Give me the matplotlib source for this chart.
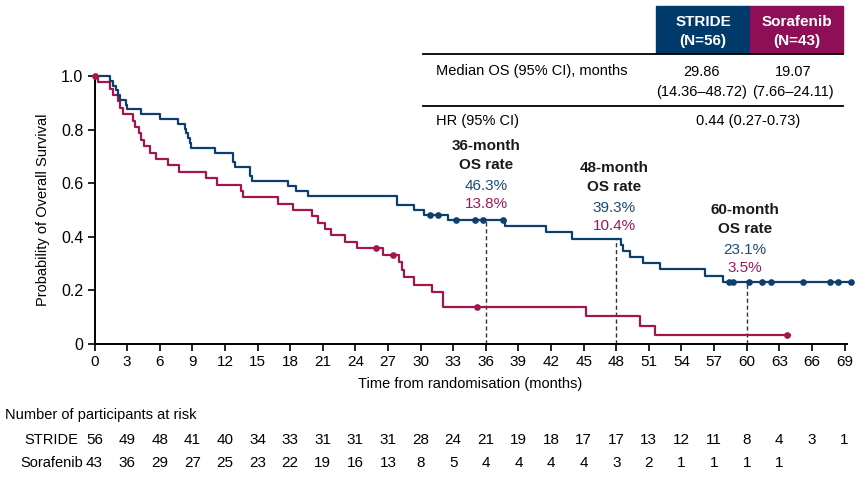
import numpy as np
import matplotlib
matplotlib.use("Agg")
import matplotlib.pyplot as plt
from matplotlib.patches import Rectangle
from matplotlib.lines import Line2D
import matplotlib.transforms as mtransforms

# ---------------- data ----------------
stride_times = [0, 1.46, 1.67, 1.98, 2.16, 2.38, 2.9, 3.0, 4.3, 6.05, 7.68,
                8.3, 8.45, 8.6, 8.75, 8.9, 11.09, 12.71, 12.93, 14.3, 14.52,
                17.83, 18.54, 19.67, 27.8, 29.43, 30.34, 32.55, 37.76, 41.53,
                43.96, 48.4, 48.6, 49.26, 50.43, 52.02, 56.16, 57.79, 69.57]
stride_surv = [1.0, 0.982, 0.964, 0.946, 0.929, 0.911, 0.893, 0.875, 0.857,
               0.839, 0.821, 0.804, 0.786, 0.768, 0.75, 0.732, 0.714, 0.679,
               0.661, 0.625, 0.607, 0.589, 0.571, 0.554, 0.518, 0.5, 0.482,
               0.463, 0.440, 0.417, 0.393, 0.370, 0.347, 0.324, 0.301, 0.278,
               0.255, 0.232, 0.232]
stride_censor = [30.87, 31.63, 33.3, 35.0, 35.77, 37.6, 58.37, 58.77, 60.24,
                 61.38, 62.24, 65.2, 67.66, 68.43, 69.57]

sora_times = [0, 0.32, 1.46, 1.67, 2.16, 2.38, 2.59, 3.51, 3.76, 4.12, 4.3,
              4.52, 5.14, 5.66, 6.76, 7.8, 10.26, 11.24, 13.5, 13.69, 16.85,
              18.29, 19.98, 20.59, 21.17, 21.73, 23.07, 24.18, 26.57, 28.04,
              28.26, 28.47, 29.38, 31.02, 32.09, 45.19, 50.18, 51.56, 63.95]
sora_surv = [1.0, 0.976, 0.952, 0.929, 0.905, 0.881, 0.857, 0.833, 0.810,
             0.786, 0.762, 0.738, 0.714, 0.690, 0.667, 0.643, 0.619, 0.595,
             0.571, 0.548, 0.524, 0.5, 0.476, 0.452, 0.429, 0.405, 0.381,
             0.357, 0.332, 0.305, 0.277, 0.249, 0.222, 0.194, 0.139, 0.104,
             0.069, 0.035, 0.035]
sora_censor = [0, 25.93, 27.43, 35.16, 63.68]

risk_months = list(range(0, 70, 3))
stride_risk = [56, 49, 48, 41, 40, 34, 33, 31, 31, 31, 28, 24, 21, 19, 18, 17,
               17, 13, 12, 11, 8, 4, 3, 1]
sora_risk = [43, 36, 29, 27, 25, 23, 22, 19, 16, 13, 8, 5, 4, 4, 4, 4, 3, 2,
             1, 1, 1, 1]

landmark_months = [36, 48, 60]
landmark_stride = ["46.3%", "39.3%", "23.1%"]
landmark_sora = ["13.8%", "10.4%", "3.5%"]

# ---------------- style ----------------
BLUE = "#0d3f6e"
RED = "#a3154f"
BOX_BLUE = "#003a6b"
BOX_RED = "#8e0f55"
TBLUE = "#1d4b7a"
TRED = "#9b1a5c"

NARROW = ["Liberation Sans Narrow", "Liberation Sans", "DejaVu Sans"]
REG = ["Liberation Sans", "DejaVu Sans"]

W, H = 865, 484
fig = plt.figure(figsize=(W / 100, H / 100), dpi=100)

x0, x1 = 0, 69.2
px_per_m = 750 / 69
ax_left = 94.5
ax_w = (x1 - x0) * px_per_m
ax_bottom = 344
ax_top = 76
ax = fig.add_axes([ax_left / W, (H - ax_bottom) / H, ax_w / W,
                   (ax_bottom - ax_top) / H])
ax.set_xlim(x0, x1)
ax.set_ylim(0, 1.0)

for s in ["top", "right"]:
    ax.spines[s].set_visible(False)
for s in ["left", "bottom"]:
    ax.spines[s].set_linewidth(1.4)
ax.tick_params(direction="out", length=5, width=1.2, pad=3)
ax.set_xticks(risk_months)
ax.set_xticklabels([str(m) for m in risk_months], fontfamily=NARROW,
                   fontsize=11)
yt = [0, 0.2, 0.4, 0.6, 0.8, 1.0]
ax.set_yticks(yt)
ax.set_yticklabels(["0", "0.2", "0.4", "0.6", "0.8", "1.0"],
                   fontfamily=NARROW, fontsize=11.5)
ax.set_xlabel("Time from randomisation (months)", fontfamily=NARROW,
              fontsize=10.5, labelpad=6)
ax.set_ylabel("Probability of Overall Survival", fontfamily=NARROW,
              fontsize=10.5, labelpad=8)


def step_at(times, surv, t):
    i = np.searchsorted(times, t, side="right") - 1
    return surv[max(i, 0)]


# dashed landmark lines
for m in landmark_months:
    ax.plot([m, m], [0, step_at(stride_times, stride_surv, m)], ls=(0, (3, 2)),
            color="#333333", lw=1.0, zorder=2)

ax.step(sora_times, sora_surv, where="post", color=RED, lw=1.6,
        clip_on=False, zorder=3)
ax.step(stride_times, stride_surv, where="post", color=BLUE, lw=1.6,
        clip_on=False, zorder=4)
ax.plot(sora_censor, [step_at(sora_times, sora_surv, t) for t in sora_censor],
        "o", color=RED, ms=3.8, clip_on=False, zorder=5)
ax.plot(stride_censor,
        [step_at(stride_times, stride_surv, t) for t in stride_censor],
        "o", color=BLUE, ms=3.8, clip_on=False, zorder=6)


def ftext(x, y, s, **kw):
    fig.text(x / W, 1 - y / H, s, **kw)


# landmark annotations
lm_x = [486, 614, 745]
lm_y = [146, 168, 210]
for xx, yy, m, a, b in zip(lm_x, lm_y, landmark_months, landmark_stride,
                           landmark_sora):
    ftext(xx, yy, f"{m}-month", ha="center", va="center", fontsize=11,
          fontweight="bold", family=REG, color="#1a1a1a")
    ftext(xx, yy + 19, "OS rate", ha="center", va="center", fontsize=11,
          fontweight="bold", family=REG, color="#1a1a1a")
    ftext(xx, yy + 40, a, ha="center", va="center", fontsize=11,
          family=REG, color=TBLUE)
    ftext(xx, yy + 58, b, ha="center", va="center", fontsize=11,
          family=REG, color=TRED)

# ---------- table top right ----------
def frect(x, y, w, h, color):
    fig.patches.append(Rectangle((x / W, 1 - (y + h) / H), w / W, h / H,
                                 transform=fig.transFigure, color=color,
                                 zorder=1))


def fline(xa, xb, y, lw=1.3):
    fig.lines.append(Line2D([xa / W, xb / W], [1 - y / H, 1 - y / H],
                            transform=fig.transFigure, color="black", lw=lw))


frect(656, 6, 94, 47, BOX_BLUE)
frect(750, 6, 93, 47, BOX_RED)
ftext(703, 21.5, "STRIDE", ha="center", va="center", color="white",
      fontsize=11, fontweight="bold", family=REG)
ftext(703, 41.5, "(N=56)", ha="center", va="center", color="white",
      fontsize=11, fontweight="bold", family=REG)
ftext(796.5, 21.5, "Sorafenib", ha="center", va="center", color="white",
      fontsize=11, fontweight="bold", family=REG)
ftext(796.5, 41.5, "(N=43)", ha="center", va="center", color="white",
      fontsize=11, fontweight="bold", family=REG)
fline(423, 843, 53.5)
fline(423, 843, 106)
ftext(436, 71.5, "Median OS (95% CI), months", ha="left", va="center",
      fontsize=10.5, family=REG)
ftext(702, 71.5, "29.86", ha="center", va="center", fontsize=10.5, family=REG)
ftext(702, 91.5, "(14.36\u201348.72)", ha="center", va="center",
      fontsize=10.5, family=REG)
ftext(793, 71.5, "19.07", ha="center", va="center", fontsize=10.5, family=REG)
ftext(793, 91.5, "(7.66\u201324.11)", ha="center", va="center",
      fontsize=10.5, family=REG)
ftext(436, 120.5, "HR (95% CI)", ha="left", va="center", fontsize=10.5,
      family=REG)
ftext(748, 120.5, "0.44 (0.27-0.73)", ha="center", va="center",
      fontsize=10.5, family=REG)

# ---------- risk table ----------
trans = mtransforms.blended_transform_factory(ax.transData, fig.transFigure)
ftext(5, 415, "Number of participants at risk", ha="left", va="center",
      fontsize=10.5, family=NARROW)
ftext(78, 440, "STRIDE", ha="right", va="center", fontsize=10.5,
      family=NARROW)
ftext(83, 463, "Sorafenib", ha="right", va="center", fontsize=10.5,
      family=NARROW)
for m, n in zip(risk_months, stride_risk):
    ax.text(m, 1 - 440 / H, str(n), transform=trans, ha="center",
            va="center", fontsize=11, family=NARROW, clip_on=False)
for m, n in zip(risk_months, sora_risk):
    ax.text(m, 1 - 463 / H, str(n), transform=trans, ha="center",
            va="center", fontsize=11, family=NARROW, clip_on=False)

fig.savefig("out.png", dpi=100)
